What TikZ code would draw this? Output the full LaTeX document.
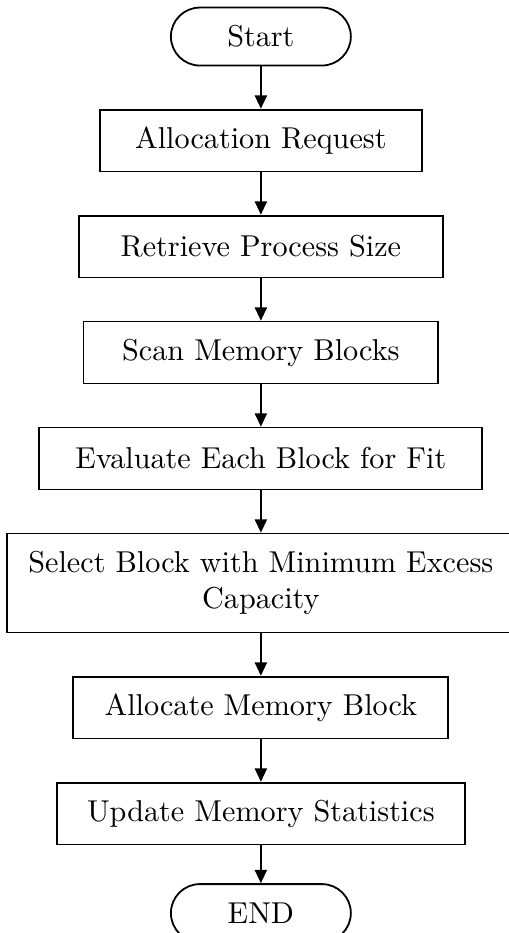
\documentclass[tikz,border=0pt]{standalone}
\usetikzlibrary{positioning,arrows.meta}
\tikzset{
  stepbox/.style={draw, semithick, rectangle, minimum height=20.5pt, inner xsep=9pt},
  termbox/.style={draw, semithick, rectangle, rounded corners=9.6pt, minimum width=59.6pt, minimum height=19.2pt},
  flow/.style={-{Triangle[length=4.4pt,width=4pt]}, semithick}
}
\begin{document}
\begin{tikzpicture}[node distance=14pt]
  % Frame
  \useasboundingbox (-86.4pt,12.1pt) rectangle (82.1pt,-296.9pt);

  % Terminals and steps
  \node[termbox] (start) at (0,0) {Start};
  \node[stepbox, below=of start, minimum width=106.6pt] (request) {Allocation Request};
  \node[stepbox, below=of request, minimum width=120.5pt] (size) {Retrieve Process Size};
  \node[stepbox, below=of size, minimum width=117.5pt] (scan) {Scan Memory Blocks};
  \node[stepbox, below=of scan, minimum width=146.7pt] (fit) {Evaluate Each Block for Fit};
  \node[stepbox, below=of fit, align=center, inner xsep=6pt, minimum width=168.2pt, minimum height=32.8pt] (select) {Select Block with Minimum Excess\\Capacity};
  \node[stepbox, below=of select, minimum width=124.2pt] (alloc) {Allocate Memory Block};
  \node[stepbox, below=of alloc, minimum width=135.1pt] (stats) {Update Memory Statistics};
  \node[termbox, below=12.5pt of stats] (end) {END};

  % Arrows
  \draw[flow] (start) -- (request);
  \draw[flow] (request) -- (size);
  \draw[flow] (size) -- (scan);
  \draw[flow] (scan) -- (fit);
  \draw[flow] (fit) -- (select);
  \draw[flow] (select) -- (alloc);
  \draw[flow] (alloc) -- (stats);
  \draw[flow] (stats) -- (end);
\end{tikzpicture}
\end{document}
